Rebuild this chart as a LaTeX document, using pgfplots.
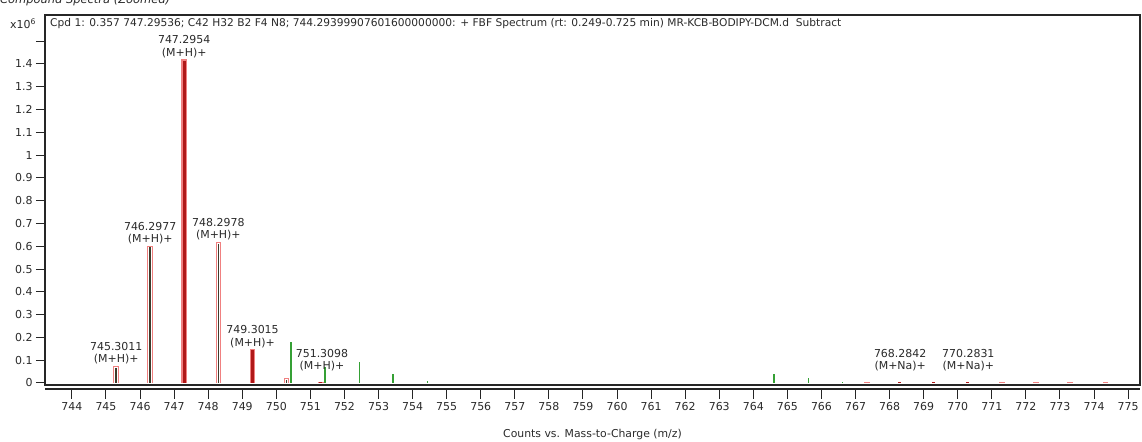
\documentclass[border=0pt]{standalone}
\usepackage{fontspec}
\setmainfont{DejaVu Sans}
\usepackage{pgfplots}
\pgfplotsset{compat=1.18}
\definecolor{pk}{HTML}{F08080}
\definecolor{dr}{HTML}{B01818}
\definecolor{gr}{HTML}{35A035}
\definecolor{dk}{HTML}{3C3C2C}
\definecolor{tx}{HTML}{2A2A2A}
\newcommand{\ann}{\fontsize{11}{12.5}\selectfont}
\begin{document}
\begin{tikzpicture}
\begin{axis}[
  scale only axis, width=1095bp, height=370bp,
  xmin=743.21, xmax=775.35, ymin=-0.009, ymax=1.615,
  axis line style={line width=1.2bp, black!85},
  xtick=\empty,
  ytick={0,0.1,0.2,0.3,0.4,0.5,0.6,0.7,0.8,0.9,1,1.1,1.2,1.3,1.4,1.5},
  yticklabels={0,0.1,0.2,0.3,0.4,0.5,0.6,0.7,0.8,0.9,1,1.1,1.2,1.3,1.4,{}},
  ytick pos=left, tick align=outside, major tick length=9bp,
  tick style={line width=1bp, black!85},
  yticklabel style={font=\fontsize{11}{12}\selectfont, text=tx},
  clip=false,
]
% predicted isotope boxes: pink outline
\addplot[ycomb, pk, line width=5.5bp, mark=none] coordinates {
 (745.3011,0.0746) (746.2977,0.601) (747.2954,1.42) (748.2978,0.619) (749.3015,0.148) (750.3000,0.022) (751.3098,0.005)
 (767.33,0.004) (771.30,0.004) (772.30,0.004) (773.30,0.004) (774.33,0.004)};
% box interiors
\addplot[ycomb, white, line width=3.5bp, mark=none] coordinates {
 (745.3011,0.0696) (746.2977,0.596) (748.2978,0.614) (749.3015,0.143) (750.3000,0.017)};
% inner dark sticks
\addplot[ycomb, dk, line width=1.5bp, mark=none] coordinates {
 (745.3011,0.066) (746.2977,0.595) (748.2978,0.612) (750.3000,0.015)};
% matched red peaks
\addplot[ycomb, dr, line width=3bp, mark=none] coordinates {
 (747.2954,1.415) (749.3015,0.143) (751.3098,0.004) (768.2842,0.004) (769.29,0.003) (770.2831,0.005)};
% other (green) peaks
\addplot[ycomb, gr, line width=1.5bp, mark=none] coordinates {
 (750.43,0.181) (751.43,0.072) (752.44,0.093) (753.43,0.039) (754.44,0.009)
 (764.61,0.040) (765.62,0.020) (766.62,0.006)};
% annotations
\begin{scope}[every node/.style={anchor=south, align=center, font=\ann, text=tx, inner sep=1.5bp}]
\node at (axis cs:745.3011,0.0746) {745.3011\\(M+H)+};
\node at (axis cs:746.2977,0.601) {746.2977\\(M+H)+};
\node at (axis cs:747.2954,1.42) {747.2954\\(M+H)+};
\node at (axis cs:748.2978,0.619) {748.2978\\(M+H)+};
\node at (axis cs:749.3015,0.148) {749.3015\\(M+H)+};
\node at (axis cs:751.34,0.045) {751.3098\\(M+H)+};
\node at (axis cs:768.31,0.045) {768.2842\\(M+Na)+};
\node at (axis cs:770.31,0.045) {770.2831\\(M+Na)+};
\end{scope}
\node[anchor=north west, font=\fontsize{10.7}{12}\selectfont, text=tx, inner sep=0pt] at ([xshift=5bp,yshift=-3bp]rel axis cs:0,1)
 {Cpd 1: 0.357 747.29536; C42 H32 B2 F4 N8; 744.29399907601600000000: + FBF Spectrum (rt: 0.249-0.725 min) MR-KCB-BODIPY-DCM.d\ \ Subtract};
\node[anchor=center, font=\fontsize{11}{12}\selectfont, text=tx] at ([xshift=-22bp,yshift=-9bp]rel axis cs:0,1) {x10\textsuperscript{6}};
\node[anchor=base west, font=\itshape\fontsize{11.5}{13}\selectfont, text=tx, inner sep=0pt] at ([xshift=-45bp,yshift=11bp]rel axis cs:0,1) {Compound Spectra (Zoomed)};
\node[anchor=center, font=\fontsize{10.9}{12}\selectfont, text=tx] at ([yshift=-50bp]rel axis cs:0.5,0) {Counts vs. Mass-to-Charge (m/z)};
\end{axis}
\begin{axis}[
  at={(0,-4bp)}, anchor=south west,
  scale only axis, width=1095bp, height=370bp,
  xmin=743.21, xmax=775.35, ymin=0, ymax=1,
  axis x line*=bottom, axis y line=none,
  axis line style={line width=1.2bp, black!85},
  xtick={744,745,746,747,748,749,750,751,752,753,754,755,756,757,758,759,760,761,762,763,764,765,766,767,768,769,770,771,772,773,774,775},
  xticklabels={744,745,746,747,748,749,750,751,752,753,754,755,756,757,758,759,760,761,762,763,764,765,766,767,768,769,770,771,772,773,774,775},
  tick align=outside, major tick length=10bp,
  tick style={line width=1bp, black!85},
  xticklabel style={font=\fontsize{11}{12}\selectfont, text=tx},
]
\end{axis}
\pgfresetboundingbox
\useasboundingbox (-45bp,-57bp) rectangle (1097bp,385bp);
\end{tikzpicture}
\end{document}
